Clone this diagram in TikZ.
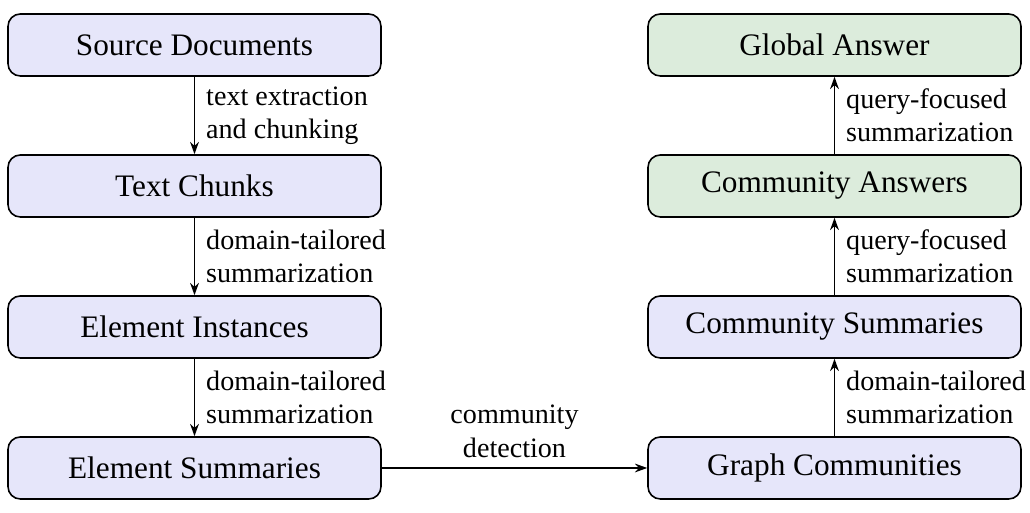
\documentclass[tikz,border=0pt]{standalone}
\usepackage{fontspec}
\setmainfont{Liberation Serif}
\usetikzlibrary{arrows.meta}
\definecolor{boxblue}{RGB}{230,230,250}
\definecolor{boxgreen}{RGB}{220,236,220}
\begin{document}
\begin{tikzpicture}[
  box/.style={draw, line width=0.9pt, rounded corners=7pt, minimum width=7.46cm, minimum height=1.24cm, fill=boxblue, font=\fontsize{17.8}{20}\selectfont},
  gbox/.style={box, fill=boxgreen},
  arr/.style={-{Stealth[length=7pt,width=5pt]}, line width=0.8pt},
  lab/.style={font=\fontsize{16}{19}\selectfont, align=left, inner sep=0pt}
]
\useasboundingbox (0,0) rectangle (20.6,10.26);
\node[box] (sd) at (3.89,9.36) {Source Documents};
\node[box] (tc) at (3.89,6.54) {Text Chunks};
\node[box] (ei) at (3.89,3.72) {Element Instances};
\node[box] (es) at (3.89,0.9) {Element Summaries};
\node[box] (gc) at (16.69,0.9) {Graph Communities};
\node[box] (cs) at (16.69,3.72) {Community Summaries};
\node[gbox] (ca) at (16.69,6.54) {Community Answers};
\node[gbox] (ga) at (16.69,9.36) {Global Answer};
\draw[arr] (sd) -- node[lab, right=0.22cm] {text extraction\\and chunking} (tc);
\draw[arr] (tc) -- node[lab, right=0.22cm] {domain-tailored\\summarization} (ei);
\draw[arr] (ei) -- node[lab, right=0.22cm] {domain-tailored\\summarization} (es);
\draw[arr] (es) -- node[lab, above=0.2cm, align=center] {community\\detection} (gc);
\draw[arr] (gc) -- node[lab, right=0.22cm] {domain-tailored\\summarization} (cs);
\draw[arr] (cs) -- node[lab, right=0.22cm] {query-focused\\summarization} (ca);
\draw[arr] (ca) -- node[lab, right=0.22cm] {query-focused\\summarization} (ga);
\end{tikzpicture}
\end{document}
